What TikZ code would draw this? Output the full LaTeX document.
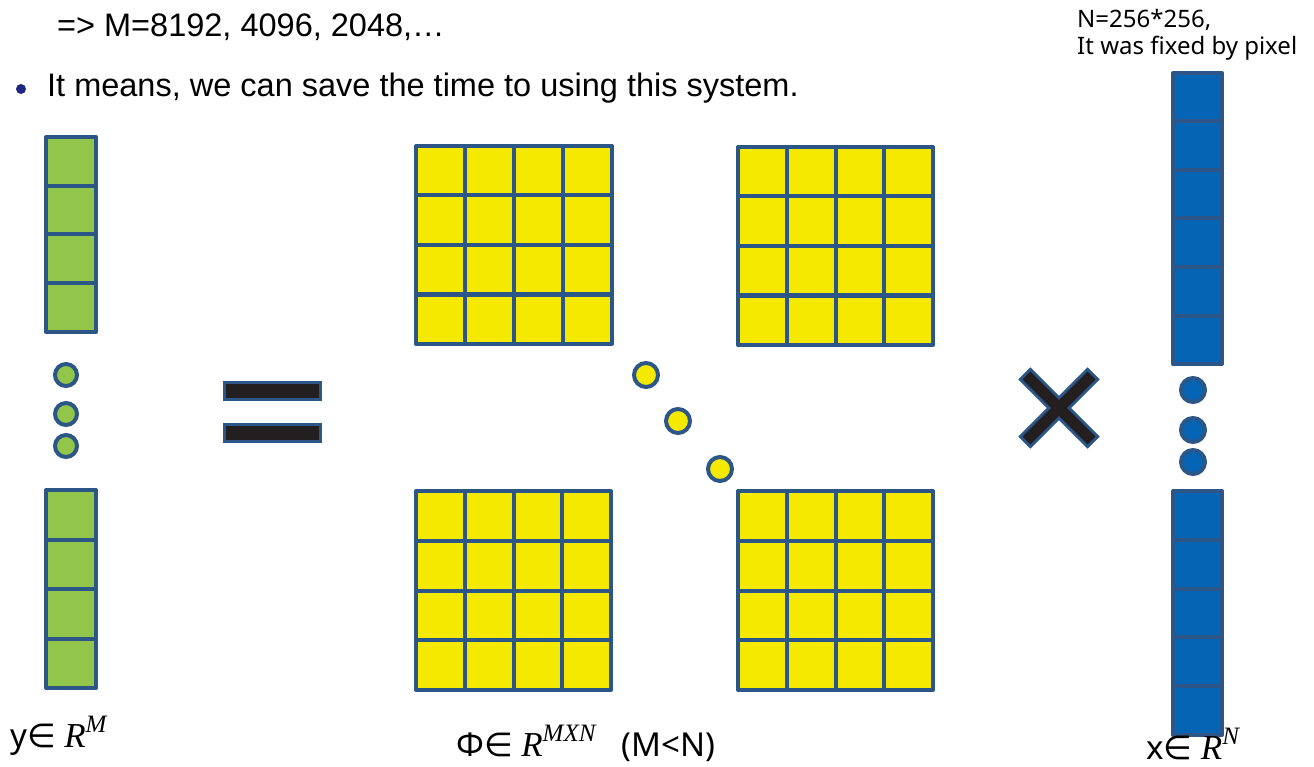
\documentclass[tikz,border=0pt]{standalone}
\usepackage{fontspec}
\setmainfont{Liberation Sans}
\newfontfamily\kfont{Noto Sans}
\newfontfamily\symf{DejaVu Sans}
\newfontfamily\serifit{Liberation Serif}
\definecolor{edge}{RGB}{44,86,136}
\definecolor{gfill}{RGB}{146,198,74}
\definecolor{yfill}{RGB}{245,233,0}
\definecolor{bfill}{RGB}{5,100,180}
\definecolor{barblack}{RGB}{35,31,32}
\definecolor{bullet}{RGB}{30,40,130}
\newcommand{\Rsup}[1]{{\serifit\itshape\fontsize{35}{35}\selectfont R}\raisebox{0.45em}{\serifit\itshape\fontsize{25}{25}\selectfont #1}}
\begin{document}
\begin{tikzpicture}[x=1pt,y=-1pt,
  cellG/.style={draw=edge,fill=gfill,line width=4pt,line join=round},
  cellY/.style={draw=edge,fill=yfill,line width=4pt,line join=round},
  cellB/.style={draw=edge,fill=bfill,line width=4pt,line join=round},
  dotG/.style={draw=edge,fill=gfill,line width=4pt},
  dotY/.style={draw=edge,fill=yfill,line width=4pt},
  dotB/.style={draw=edge,fill=bfill,line width=4pt},
  barout/.style={fill=edge,draw=edge,line width=6pt},
  barin/.style={fill=barblack},
  txt/.style={inner sep=0pt,anchor=base west,font=\fontsize{32.5}{38}\selectfont},
  small/.style={inner sep=0pt,anchor=base west,font=\kfont\fontsize{24}{27}\selectfont,align=left},
  lab/.style={inner sep=0pt,anchor=base west,font=\kfont\fontsize{33}{36}\selectfont}]
\useasboundingbox (0,0) rectangle (1314,767);

% header texts
\node[txt] (t1) at (57,37) {=> M=8192, 4096, 2048,\ldots};
\fill[bullet] (21,89) circle (5pt);
\node[txt] (t2) at (47,97) {It means, we can save the time to using this system.};
\node[small] (t3) at (1077,28) {N=256*256,};
\node[small] (t4) at (1077,55) {It was fixed by pixel};

% green column
\foreach \i in {0,...,3} \draw[cellG] (46,{137+\i*48.75}) rectangle ++(50,48.75);
\foreach \i in {0,...,3} \draw[cellG] (46,{490+\i*49.5}) rectangle ++(50,49.5);
\draw[dotG] (66,375) circle (11pt);
\draw[dotG] (66,414) circle (11pt);
\draw[dotG] (66,446) circle (11pt);

% equals sign
\path[barout] (226,384) rectangle (319,398);
\path[barout] (226,426) rectangle (319,440);
\path[barin] (226,384) rectangle (319,398);
\path[barin] (226,426) rectangle (319,440);

% yellow matrices
\foreach \i in {0,...,3} \foreach \j in {0,...,3} {
  \draw[cellY] ({416+\i*49},{146+\j*49.5}) rectangle ++(49,49.5);
  \draw[cellY] ({738+\i*48.75},{147+\j*49.5}) rectangle ++(48.75,49.5);
  \draw[cellY] ({416+\i*48.75},{491+\j*49.75}) rectangle ++(48.75,49.75);
  \draw[cellY] ({738+\i*48.75},{491+\j*49.75}) rectangle ++(48.75,49.75);
}
\draw[dotY] (646,375) circle (12pt);
\draw[dotY] (678,421) circle (12pt);
\draw[dotY] (720,469) circle (12pt);

% times sign
\begin{scope}[shift={(1059,408)}]
  \path[barout,rotate=45] (-46,-5.5) rectangle (46,5.5);
  \path[barout,rotate=-45] (-46,-5.5) rectangle (46,5.5);
  \path[barin,rotate=45] (-46,-5.5) rectangle (46,5.5);
  \path[barin,rotate=-45] (-46,-5.5) rectangle (46,5.5);
\end{scope}

% blue column
\foreach \i in {0,...,5} \draw[cellB] (1173,{73+\i*48.5}) rectangle ++(49,48.5);
\foreach \i in {0,...,4} \draw[cellB] (1173,{491+\i*48.8}) rectangle ++(49,48.8);
\draw[dotB] (1193,390) circle (12pt);
\draw[dotB] (1193,430) circle (12pt);
\draw[dotB] (1193,462) circle (12pt);

% labels
\node[lab] (ly) at (10,747) {y{\symf∈} \Rsup{M}};
\node[lab] (lphi) at (456,756) {Φ{\symf∈} \Rsup{MXN}\hspace{26pt}(M<N)};
\node[lab] (lx) at (1146,759) {x{\symf∈} \Rsup{N}};
\end{tikzpicture}
\end{document}
